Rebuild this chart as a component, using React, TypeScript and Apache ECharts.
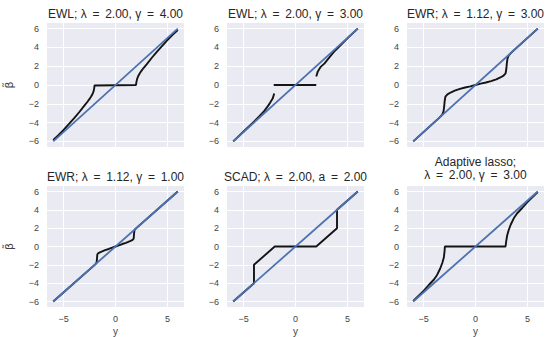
import React, { useEffect, useRef } from "react";
import * as echarts from "echarts";

// ---- data ----
const identityLine: number[][] = [[-6, -6], [6, 6]];

const ewl1: number[][] = [
  [-6, -5.85], [-5.5, -5.35], [-5, -4.77], [-4.5, -4.17], [-4, -3.55], [-3.5, -2.9],
  [-3, -2.2], [-2.7, -1.78], [-2.5, -1.48], [-2.35, -1.23], [-2.2, -0.93],
  [-2.1, -0.63], [-2.05, -0.33], [-2.02, -0.05], [-2.02, 0],
  [1.97, 0], [1.98, 0.05], [2.02, 0.33], [2.08, 0.63], [2.18, 0.93], [2.33, 1.23],
  [2.48, 1.48], [2.68, 1.78], [3, 2.2], [3.5, 2.9], [4, 3.55], [4.5, 4.17],
  [5, 4.77], [5.5, 5.35], [6, 5.85],
];

const ewl2Left: number[][] = [
  [-6, -6], [-5, -4.95], [-4, -3.9], [-3.5, -3.35], [-3, -2.75], [-2.7, -2.3],
  [-2.45, -1.9], [-2.2, -1.45], [-2.05, -0.9],
];
const ewl2Mid: number[][] = [[-2.1, 0], [2.0, 0]];
const ewl2Right: number[][] = [
  [2.0, 0.9], [2.15, 1.45], [2.4, 1.9], [2.8, 2.3], [3.3, 3.0], [3.8, 3.65],
  [4.5, 4.42], [5, 4.97], [6, 6],
];

const ewr1: number[][] = [
  [-6, -6], [-3.5, -3.5], [-3.2, -3.15], [-3.08, -2.8], [-3.02, -2.3], [-2.97, -1.7],
  [-2.9, -1.25], [-2.7, -1.0], [-2.4, -0.8], [-2, -0.6], [-1.5, -0.42], [-1, -0.27],
  [-0.5, -0.15], [0, 0], [0.5, 0.15], [1, 0.27], [1.5, 0.42], [2, 0.6], [2.4, 0.8],
  [2.7, 1.0], [2.9, 1.25], [2.97, 1.7], [3.02, 2.3], [3.08, 2.8], [3.2, 3.15],
  [3.5, 3.5], [6, 6],
];

const ewr2: number[][] = [
  [-6, -6], [-1.95, -1.95], [-1.82, -1.75], [-1.78, -1.3], [-1.75, -0.85],
  [-1.65, -0.72], [-1.4, -0.58], [-1, -0.4], [-0.65, -0.27], [0, 0], [0.65, 0.27],
  [1, 0.4], [1.4, 0.58], [1.65, 0.72], [1.75, 0.85], [1.78, 1.3], [1.82, 1.75],
  [1.95, 1.95], [6, 6],
];

const scad: number[][] = [
  [-6, -6], [-4, -4], [-4, -2], [-2, 0], [2, 0], [4, 2], [4, 4], [6, 6],
];

const alasso: number[][] = [
  [-6, -5.95], [-5.5, -5.4], [-5, -4.85], [-4.5, -4.2], [-4, -3.6], [-3.7, -3.1],
  [-3.4, -2.4], [-3.2, -1.8], [-3.05, -1.2], [-2.98, -0.5], [-2.95, 0],
  [2.9, 0], [2.95, 0.5], [3.05, 1.2], [3.2, 1.8], [3.4, 2.4], [3.7, 3.1],
  [4.0, 3.6], [4.5, 4.2], [5, 4.85], [5.5, 5.4], [6, 5.95],
];

const T = "\u2009";
const panelTitles: string[] = [
  `EWL; λ ${T}=${T} 2.00, γ ${T}=${T} 4.00`,
  `EWL; λ ${T}=${T} 2.00, γ ${T}=${T} 3.00`,
  `EWR; λ ${T}=${T} 1.12, γ ${T}=${T} 3.00`,
  `EWR; λ ${T}=${T} 1.12, γ ${T}=${T} 1.00`,
  `SCAD; λ ${T}=${T} 2.00, a ${T}=${T} 2.00`,
  `Adaptive lasso;\nλ ${T}=${T} 2.00, γ ${T}=${T} 3.00`,
];
const panelCurves: number[][][][] = [
  [ewl1],
  [ewl2Left, ewl2Mid, ewl2Right],
  [ewr1],
  [ewr2],
  [scad],
  [alasso],
];

const xTicks: number[] = [-5, 0, 5];
const yTicks: number[] = [-6, -4, -2, 0, 2, 4, 6];
const axisMin = -6.6;
const axisMax = 6.6;

const FONT = "'Liberation Sans', Arial, 'DejaVu Sans', sans-serif";
const LEFTS = [47, 227, 407];
const TOPS = [23, 186];
const PW = 137;
const PH = 124;

function fmt(v: number): string {
  return v < 0 ? "\u2212" + Math.abs(v) : String(v);
}

export default function App() {
  const ref = useRef<HTMLDivElement>(null);
  useEffect(() => {
    if (!ref.current) return;
    const chart = echarts.init(ref.current, undefined, { renderer: "svg" });
    const grids: any[] = [];
    const xAxes: any[] = [];
    const yAxes: any[] = [];
    const series: any[] = [];
    const graphics: any[] = [];
    for (let i = 0; i < 6; i++) {
      const col = i % 3;
      const row = Math.floor(i / 3);
      const left = LEFTS[col];
      const top = TOPS[row];
      grids.push({
        left, top, width: PW, height: PH, show: true,
        backgroundColor: "#EAEAF2", borderWidth: 0, containLabel: false,
      });
      xAxes.push({
        type: "value", gridIndex: i, min: axisMin, max: axisMax,
        axisLine: { show: false }, axisTick: { show: false, customValues: xTicks },
        splitLine: { show: false },
        axisLabel: {
          show: row === 1, customValues: xTicks, formatter: fmt, margin: 7,
          fontSize: 9, color: "#444", fontFamily: FONT,
        },
        name: row === 1 ? "y" : "", nameLocation: "middle", nameGap: 19,
        nameTextStyle: { fontSize: 10, color: "#444", fontFamily: FONT },
      });
      yAxes.push({
        type: "value", gridIndex: i, min: axisMin, max: axisMax,
        axisLine: { show: false }, axisTick: { show: false, customValues: yTicks },
        splitLine: { show: false },
        axisLabel: {
          show: true, customValues: yTicks, formatter: fmt, margin: 8,
          fontSize: 9, color: "#444", fontFamily: FONT,
        },
        name: col === 0 ? "\u03B2\u0303" : "", nameLocation: "middle", nameGap: 32,
        nameRotate: 90,
        nameTextStyle: { fontSize: 11, color: "#444", fontFamily: "'DejaVu Sans', sans-serif" },
      });
      // grid lines
      series.push({
        type: "line", xAxisIndex: i, yAxisIndex: i, data: [[0, 0]],
        showSymbol: false, lineStyle: { opacity: 0 }, silent: true, z: 1,
        markLine: {
          silent: true, symbol: "none", z: 1, animation: false,
          label: { show: false },
          lineStyle: { color: "#ffffff", width: 1, type: "solid" },
          emphasis: { disabled: true },
          data: [
            ...xTicks.map((v) => ({ xAxis: v })),
            ...yTicks.map((v) => ({ yAxis: v })),
          ],
        },
      });
      panelCurves[i].forEach((c) => {
        series.push({
          type: "line", xAxisIndex: i, yAxisIndex: i, data: c,
          showSymbol: false, smooth: false, silent: true, z: 3,
          lineStyle: { color: "#141414", width: 1.9 },
        });
      });
      series.push({
        type: "line", xAxisIndex: i, yAxisIndex: i, data: identityLine,
        showSymbol: false, silent: true, z: 4,
        lineStyle: { color: "#4C72B0", width: 1.8 },
      });
      const multi = panelTitles[i].includes("\n");
      graphics.push({
        type: "text",
        x: left + PW / 2,
        y: multi ? top - 18 : top - 9,
        style: {
          text: panelTitles[i],
          fill: "#262626",
          font: `12px ${FONT}`,
          fontSize: 12,
          fontFamily: FONT,
          align: "center",
          verticalAlign: "middle",
          textAlign: "center",
          textVerticalAlign: "middle",
          lineHeight: 13,
        },
      });
    }
    chart.setOption({
      animation: false,
      grid: grids,
      xAxis: xAxes,
      yAxis: yAxes,
      series,
      graphic: graphics,
    });
    return () => chart.dispose();
  }, []);
  return (
    <div
      ref={ref}
      style={{ position: "absolute", left: 0, top: 0, width: 546, height: 337, background: "#fff" }}
    />
  );
}
